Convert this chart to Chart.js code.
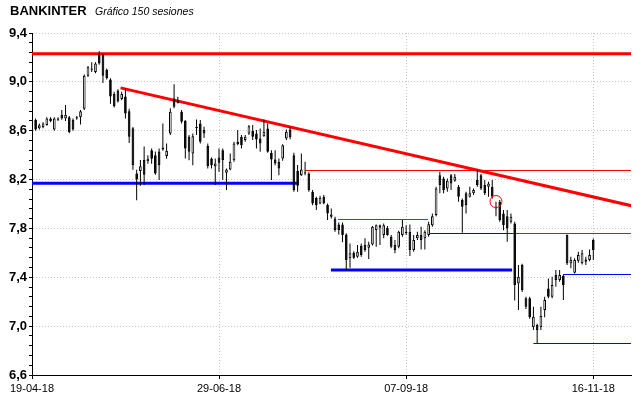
<!DOCTYPE html>
<html>
<head>
<meta charset="utf-8">
<script src="https://cdn.jsdelivr.net/npm/chart.js@4.4.1/dist/chart.umd.min.js"></script>
<style>
  html, body { margin: 0; padding: 0; background: #fff; }
  #wrap { position: relative; width: 640px; height: 398px; }
  #title { position: absolute; left: 10px; top: 3px; font: bold 13px "Liberation Sans", Arial, sans-serif; color: #000; }
  #sub { position: absolute; left: 95px; top: 5px; font: italic 10.5px "Liberation Sans", Arial, sans-serif; color: #000; }
  canvas { position: absolute; left: 0; top: 0; }
</style>
</head>
<body>
<div id="wrap">
  <canvas id="chart" width="640" height="398"></canvas>
  <div id="title">BANKINTER</div>
  <div id="sub">Gráfico 150 sesiones</div>
</div>
<script>
// 150 sessions, 19-04-18 .. 16-11-18
const opens = [
  8.69, 8.62, 8.63, 8.646, 8.70, 8.61, 8.69, 8.73, 8.70, 8.71,
  8.69, 8.70, 8.71, 8.78, 9.05, 9.10, 9.08, 9.22, 9.22, 9.10,
  9.02, 8.90, 8.93, 8.86, 8.88, 8.76, 8.62, 8.25, 8.27, 8.36,
  8.35, 8.44, 8.40, 8.43, 8.447, 8.392, 8.578, 8.864, 8.850, 8.755,
  8.682, 8.55, 8.414, 8.62, 8.66, 8.605, 8.474, 8.373, 8.31, 8.381,
  8.44, 8.256, 8.283, 8.359, 8.509, 8.550, 8.523, 8.577, 8.600, 8.577,
  8.537, 8.555, 8.619, 8.419, 8.365, 8.346, 8.373, 8.537, 8.610, 8.40,
  8.27, 8.236, 8.26, 8.25, 8.10, 8.05, 8.005, 8.059, 7.991, 7.896,
  7.882, 7.833, 7.833, 7.751, 7.555, 7.601, 7.568, 7.659, 7.664, 7.641,
  7.669, 7.787, 7.827, 7.746, 7.806, 7.732, 7.664, 7.650, 7.746, 7.773,
  7.773, 7.623, 7.719, 7.746, 7.719, 7.746, 7.827, 7.909, 8.236, 8.209,
  8.127, 8.236, 8.190, 8.141, 8.032, 8.087, 8.060, 8.087, 8.196, 8.236,
  8.155, 8.141, 8.141, 7.977, 8.018, 7.922, 7.90, 7.855, 7.841, 7.350,
  7.500, 7.228, 7.228, 6.990, 7.009, 6.990, 7.132, 7.309, 7.241, 7.418,
  7.377, 7.410, 7.746, 7.514, 7.437, 7.536, 7.514, 7.546, 7.541, 7.705
];
const highs = [
  8.70, 8.66, 8.67, 8.71, 8.71, 8.71, 8.71, 8.77, 8.81, 8.72,
  8.70, 8.72, 8.77, 9.06, 9.13, 9.16, 9.16, 9.25, 9.23, 9.11,
  9.03, 8.92, 8.94, 8.92, 8.95, 8.78, 8.63, 8.28, 8.36, 8.47,
  8.40, 8.455, 8.43, 8.455, 8.66, 8.496, 8.783, 8.981, 8.878, 8.77,
  8.687, 8.564, 8.578, 8.692, 8.687, 8.632, 8.496, 8.381, 8.373, 8.455,
  8.455, 8.291, 8.414, 8.509, 8.605, 8.564, 8.564, 8.646, 8.646, 8.605,
  8.619, 8.692, 8.659, 8.441, 8.441, 8.373, 8.490, 8.610, 8.630, 8.42,
  8.32, 8.414, 8.346, 8.26, 8.114, 8.06, 8.067, 8.073, 8.005, 7.964,
  7.896, 7.849, 7.849, 7.760, 7.677, 7.614, 7.664, 7.677, 7.719, 7.69,
  7.82, 7.833, 7.833, 7.841, 7.82, 7.746, 7.705, 7.780, 7.868, 7.827,
  7.833, 7.746, 7.773, 7.814, 7.786, 7.854, 7.922, 8.141, 8.264, 8.223,
  8.209, 8.245, 8.245, 8.155, 8.046, 8.100, 8.141, 8.127, 8.283, 8.245,
  8.196, 8.182, 8.196, 8.018, 8.032, 7.950, 7.95, 7.923, 7.855, 7.500,
  7.51, 7.24, 7.24, 7.159, 7.02, 7.159, 7.241, 7.391, 7.405, 7.459,
  7.459, 7.418, 7.75, 7.568, 7.555, 7.609, 7.623, 7.568, 7.628, 7.718
];
const lows = [
  8.60, 8.61, 8.62, 8.64, 8.67, 8.60, 8.68, 8.69, 8.68, 8.58,
  8.60, 8.69, 8.65, 8.77, 9.04, 9.08, 9.07, 9.14, 8.99, 9.02,
  8.82, 8.79, 8.83, 8.85, 8.70, 8.50, 8.28, 8.03, 8.15, 8.155,
  8.33, 8.33, 8.24, 8.196, 8.436, 8.37, 8.564, 8.783, 8.823, 8.66,
  8.373, 8.359, 8.318, 8.564, 8.496, 8.54, 8.29, 8.29, 8.155, 8.264,
  8.196, 8.114, 8.277, 8.346, 8.482, 8.455, 8.510, 8.564, 8.523, 8.455,
  8.428, 8.550, 8.419, 8.196, 8.318, 8.236, 8.354, 8.523, 8.530, 8.10,
  8.10, 8.23, 8.236, 8.10, 7.99, 7.95, 7.997, 7.997, 7.868, 7.882,
  7.773, 7.751, 7.686, 7.451, 7.478, 7.550, 7.560, 7.568, 7.609, 7.55,
  7.66, 7.650, 7.664, 7.719, 7.74, 7.637, 7.596, 7.637, 7.732, 7.746,
  7.574, 7.609, 7.705, 7.628, 7.628, 7.732, 7.814, 7.900, 8.087, 8.087,
  8.100, 8.114, 8.182, 8.018, 7.765, 7.922, 8.054, 8.073, 8.141, 8.114,
  8.073, 8.060, 8.046, 7.90, 7.854, 7.786, 7.69, 7.841, 7.209, 7.132,
  7.28, 7.14, 7.06, 6.968, 6.859, 6.968, 7.072, 7.228, 7.228, 7.323,
  7.364, 7.214, 7.50, 7.473, 7.432, 7.519, 7.505, 7.50, 7.532, 7.541
];
const closes = [
  8.61, 8.645, 8.66, 8.70, 8.68, 8.70, 8.70, 8.70, 8.73, 8.59,
  8.61, 8.71, 8.76, 9.05, 9.12, 9.11, 9.15, 9.15, 9.05, 9.03,
  8.88, 8.80, 8.84, 8.90, 8.74, 8.55, 8.32, 8.20, 8.31, 8.24,
  8.37, 8.37, 8.25, 8.32, 8.463, 8.436, 8.755, 8.796, 8.828, 8.673,
  8.455, 8.428, 8.555, 8.632, 8.51, 8.578, 8.31, 8.318, 8.332, 8.338,
  8.36, 8.283, 8.346, 8.496, 8.490, 8.482, 8.550, 8.637, 8.550, 8.528,
  8.496, 8.591, 8.428, 8.365, 8.332, 8.291, 8.482, 8.591, 8.546, 8.114,
  8.15, 8.283, 8.25, 8.114, 8.005, 7.99, 8.051, 8.005, 7.923, 7.915,
  7.787, 7.787, 7.746, 7.541, 7.596, 7.560, 7.609, 7.582, 7.623, 7.669,
  7.814, 7.827, 7.806, 7.827, 7.746, 7.650, 7.623, 7.773, 7.814, 7.760,
  7.623, 7.705, 7.746, 7.705, 7.773, 7.835, 7.900, 8.127, 8.155, 8.114,
  8.190, 8.168, 8.223, 8.060, 7.977, 7.991, 8.087, 8.114, 8.155, 8.127,
  8.087, 8.168, 8.060, 7.964, 7.868, 7.827, 7.80, 7.896, 7.337, 7.405,
  7.296, 7.159, 7.072, 7.077, 6.968, 7.083, 7.214, 7.241, 7.337, 7.377,
  7.418, 7.337, 7.514, 7.541, 7.541, 7.582, 7.596, 7.527, 7.582, 7.623
];

const tickDates = ["19-04-18", "29-06-18", "07-09-18", "16-11-18"];
const tickSessions = [0, 49, 99, 149];
const priceLabels = [6.6, 7.0, 7.4, 7.8, 8.2, 8.6, 9.0, 9.4];

// horizontal levels: price, from session, to session
const levelPrice = [9.23, 8.17, 8.2743, 7.8731, 7.46, 7.7585, 7.7585, 7.4228, 6.8579];
const levelFrom = [-1, -1, 72.0, 80.8, 78.9, 105.4, 127.5, 140.9, 133.0];
const levelTo = [160, 69.8, 160, 104.8, 127.3, 127.5, 160, 160, 160];
// trend line: sessions and prices at both ends
const trendSessions = [22.7, 160];
const trendPrices = [8.951, 7.98];
const markSession = [123.0];
const markPrice = [8.02];

const levelColor = ["#ff0000", "#0000ff", "#ff0000", "#ff0000", "#0000ff", "#0000ff", "#ff0000", "#0000ff", "#0000ff"];
const levelWidth = [3, 3, 1, 1, 3, 1, 1, 1, 1];

const xMin = -0.96;
const xMax = 159.07;

let wicks = opens.map(function(o, i) { return {x: i, y: [lows[i], highs[i]]}; });
let bodies = opens.map(function(o, i) { return {x: i, y: [o, closes[i]]}; });
let bodyFill = opens.map(function(o, i) { return closes[i] >= o ? "#ffffff" : "#000000"; });

let datasets = [];
levelPrice.forEach(function(p, i) {
  datasets.push({
    type: "line",
    data: [{x: levelFrom[i], y: p}, {x: levelTo[i], y: p}],
    borderColor: levelColor[i],
    borderWidth: levelWidth[i],
    pointRadius: 0,
    order: 5,
  });
});
datasets.push({
  type: "line",
  data: trendSessions.map(function(s, i) { return {x: s, y: trendPrices[i]}; }),
  borderColor: "#ff0000",
  borderWidth: 3,
  pointRadius: 0,
  order: 5,
});
datasets.push({
  type: "bar",
  data: wicks,
  backgroundColor: "#000000",
  borderWidth: 0,
  grouped: false,
  maxBarThickness: 1,
  order: 3,
});
datasets.push({
  type: "bar",
  data: bodies,
  backgroundColor: bodyFill,
  borderColor: "#000000",
  borderWidth: 1,
  borderSkipped: false,
  grouped: false,
  maxBarThickness: 3,
  order: 2,
});
datasets.push({
  type: "line",
  data: markSession.map(function(s, i) { return {x: s, y: markPrice[i]}; }),
  showLine: false,
  pointRadius: 6,
  pointBorderColor: "#ff0000",
  pointBackgroundColor: "rgba(0,0,0,0)",
  pointBorderWidth: 1,
  order: 1,
});

let canvas = document.querySelector("#chart");
new Chart(canvas, {
  type: "bar",
  data: {datasets: datasets},
  options: {
    responsive: false,
    animation: false,
    layout: {padding: {top: 33, right: 9, left: 0, bottom: 0}},
    plugins: {legend: {display: false}, tooltip: {enabled: false}},
    scales: {
      x: {
        type: "linear",
        min: xMin,
        max: xMax,
        offset: false,
        afterBuildTicks: function(scale) {
          scale.ticks = tickSessions.map(function(s, i) { return {value: i === 0 ? xMin : s}; });
        },
        afterFit: function(scale) { scale.height = 23; },
        ticks: {
          autoSkip: false,
          maxRotation: 0,
          padding: 3,
          color: "#000",
          font: {family: "Liberation Sans", size: 11},
          callback: function(v, i) { return tickDates[i]; },
        },
        grid: {
          offset: false,
          color: function(ctx) { return ctx.index === 0 ? "rgba(0,0,0,0)" : "#c8c8c8"; },
          tickColor: "#000",
          tickLength: 4,
        },
        border: {color: "#000", width: 1, dash: [1, 2]},
      },
      y: {
        type: "linear",
        min: 6.6,
        max: 9.4,
        afterBuildTicks: function(scale) {
          let t = [];
          for (let k = 0; k <= 35; k++) {
            t.push({value: 6.6 + k * 0.08});
          }
          scale.ticks = t;
        },
        afterFit: function(scale) { scale.width = 32; },
        ticks: {
          autoSkip: false,
          padding: 2,
          color: "#000",
          font: {family: "Liberation Sans", size: 13, weight: "bold"},
          callback: function(v, i) {
            return i % 5 === 0 ? priceLabels[i / 5].toFixed(1).replace(".", ",") : "";
          },
        },
        grid: {
          color: function(ctx) { return ctx.index % 5 === 0 && ctx.index > 0 ? "#c8c8c8" : "rgba(0,0,0,0)"; },
          tickColor: "#000",
          tickLength: 3,
        },
        border: {color: "#000", width: 1, dash: [1, 2]},
      },
    },
  },
});
</script>
</body>
</html>
